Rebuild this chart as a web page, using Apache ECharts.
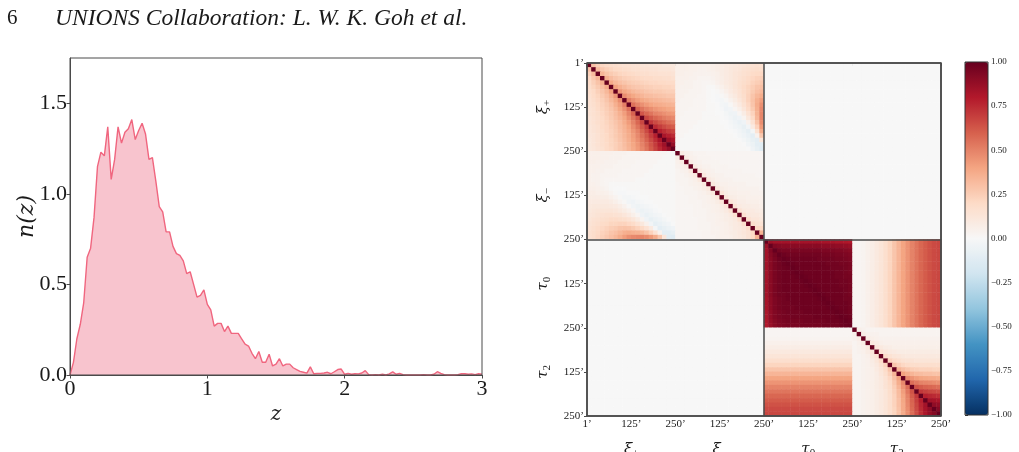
<!DOCTYPE html>
<html>
<head>
<meta charset="utf-8">
<script src="https://cdn.jsdelivr.net/npm/echarts@6/dist/echarts.min.js"></script>
<style>
html, body { margin: 0; padding: 0; background: #fff; }
#chart { width: 1019px; height: 452px; }
</style>
</head>
<body>
<div id="chart"></div>
<script>
// ---- left panel: redshift distribution n(z), bins of width zStep starting at z = 0
const zStep = 0.025
const nzValues = [
	0.00, 0.07, 0.20, 0.28, 0.40, 0.65, 0.70, 0.87, 1.15, 1.23,
	1.21, 1.37, 1.08, 1.19, 1.37, 1.28, 1.34, 1.36, 1.41, 1.30,
	1.35, 1.39, 1.33, 1.19, 1.20, 1.07, 0.93, 0.90, 0.79, 0.79,
	0.71, 0.67, 0.66, 0.63, 0.56, 0.57, 0.50, 0.43, 0.44, 0.47,
	0.39, 0.36, 0.27, 0.285, 0.285, 0.24, 0.27, 0.23, 0.23, 0.23,
	0.20, 0.17, 0.16, 0.12, 0.09, 0.13, 0.07, 0.07, 0.115, 0.05,
	0.06, 0.09, 0.05, 0.06, 0.06, 0.04, 0.03, 0.02, 0.015, 0.01,
	0.045, 0.007, 0.009, 0.009, 0.011, 0.015, 0.007, 0.018, 0.03, 0.033,
	0.004, 0.009, 0.004, 0.007, 0.006, 0.011, 0.024, 0.002, 0.0, 0.002,
	0.0, 0.004, 0.0, 0.006, 0.017, 0.004, 0.009, 0.002, 0.0, 0.0,
	0.0, 0.0, 0.0, 0.002, 0.0, 0.0, 0.004, 0.018, 0.009, 0.002,
	0.0, 0.0, 0.0, 0.002, 0.007, 0.007, 0.004, 0.006, 0.002, 0.007,
	0.005
]
const nzTicks = [0, 0.5, 1, 1.5]
const zTicks = [0, 1, 2, 3]

// ---- right panel: correlation matrix, 4 blocks of 20 angular bins
const groupNames = ['ξ+', 'ξ−', 'τ0', 'τ2']
const binTickLabels = ['1’', '125’', '250’', '125’', '250’', '125’', '250’', '125’', '250’']
const nBins = 20

// xi+ x xi+ (lower triangle, row i holds columns 0..i)
const xipXipLower = [
	[1],
	[0.30, 1],
	[0.24, 0.32, 1],
	[0.21, 0.27, 0.34, 1],
	[0.19, 0.24, 0.29, 0.36, 1],
	[0.18, 0.22, 0.26, 0.31, 0.38, 1],
	[0.17, 0.20, 0.24, 0.28, 0.33, 0.41, 1],
	[0.16, 0.19, 0.22, 0.26, 0.30, 0.36, 0.44, 1],
	[0.15, 0.18, 0.21, 0.24, 0.28, 0.33, 0.39, 0.47, 1],
	[0.15, 0.17, 0.20, 0.23, 0.26, 0.30, 0.36, 0.42, 0.51, 1],
	[0.14, 0.16, 0.19, 0.22, 0.25, 0.28, 0.33, 0.39, 0.46, 0.55, 1],
	[0.14, 0.16, 0.18, 0.21, 0.24, 0.27, 0.31, 0.36, 0.42, 0.50, 0.59, 1],
	[0.13, 0.15, 0.17, 0.20, 0.23, 0.26, 0.30, 0.34, 0.39, 0.46, 0.54, 0.63, 1],
	[0.13, 0.15, 0.17, 0.19, 0.22, 0.25, 0.28, 0.32, 0.37, 0.43, 0.50, 0.58, 0.67, 1],
	[0.12, 0.14, 0.16, 0.19, 0.21, 0.24, 0.27, 0.31, 0.35, 0.40, 0.47, 0.54, 0.62, 0.71, 1],
	[0.12, 0.14, 0.16, 0.18, 0.21, 0.23, 0.26, 0.30, 0.34, 0.38, 0.44, 0.50, 0.58, 0.66, 0.75, 1],
	[0.12, 0.13, 0.15, 0.18, 0.20, 0.23, 0.26, 0.29, 0.33, 0.37, 0.42, 0.48, 0.55, 0.62, 0.70, 0.78, 1],
	[0.11, 0.13, 0.15, 0.17, 0.20, 0.22, 0.25, 0.28, 0.32, 0.36, 0.41, 0.46, 0.52, 0.59, 0.66, 0.74, 0.82, 1],
	[0.11, 0.13, 0.15, 0.17, 0.19, 0.22, 0.24, 0.27, 0.31, 0.35, 0.39, 0.44, 0.50, 0.56, 0.63, 0.70, 0.78, 0.85, 1],
	[0.11, 0.12, 0.14, 0.16, 0.19, 0.21, 0.24, 0.27, 0.30, 0.34, 0.38, 0.43, 0.48, 0.54, 0.61, 0.68, 0.75, 0.82, 0.88, 1]
]

// xi- x xi- (lower triangle)
const ximXimLower = [
	[1],
	[0.08, 1],
	[0.05, 0.08, 1],
	[0.04, 0.05, 0.08, 1],
	[0.03, 0.04, 0.05, 0.09, 1],
	[0.03, 0.03, 0.04, 0.06, 0.09, 1],
	[0.03, 0.03, 0.03, 0.04, 0.06, 0.10, 1],
	[0.02, 0.03, 0.03, 0.04, 0.05, 0.06, 0.10, 1],
	[0.02, 0.02, 0.03, 0.03, 0.04, 0.05, 0.07, 0.11, 1],
	[0.02, 0.02, 0.03, 0.03, 0.03, 0.04, 0.05, 0.07, 0.11, 1],
	[0.02, 0.02, 0.02, 0.03, 0.03, 0.04, 0.04, 0.05, 0.07, 0.12, 1],
	[0.02, 0.02, 0.02, 0.03, 0.03, 0.03, 0.04, 0.05, 0.06, 0.08, 0.12, 1],
	[0.02, 0.02, 0.02, 0.02, 0.03, 0.03, 0.04, 0.04, 0.05, 0.06, 0.08, 0.13, 1],
	[0.02, 0.02, 0.02, 0.02, 0.03, 0.03, 0.03, 0.04, 0.05, 0.06, 0.07, 0.09, 0.14, 1],
	[0.02, 0.02, 0.02, 0.02, 0.03, 0.03, 0.03, 0.04, 0.04, 0.05, 0.06, 0.07, 0.09, 0.15, 1],
	[0.02, 0.02, 0.02, 0.02, 0.02, 0.03, 0.03, 0.04, 0.04, 0.05, 0.06, 0.07, 0.08, 0.10, 0.16, 1],
	[0.02, 0.02, 0.02, 0.02, 0.02, 0.03, 0.03, 0.03, 0.04, 0.05, 0.05, 0.06, 0.08, 0.09, 0.11, 0.17, 1],
	[0.02, 0.02, 0.02, 0.02, 0.02, 0.03, 0.03, 0.03, 0.04, 0.04, 0.05, 0.06, 0.07, 0.09, 0.10, 0.12, 0.18, 1],
	[0.02, 0.02, 0.02, 0.02, 0.02, 0.02, 0.03, 0.03, 0.04, 0.04, 0.05, 0.06, 0.07, 0.08, 0.10, 0.12, 0.14, 0.20, 1],
	[0.02, 0.02, 0.02, 0.02, 0.02, 0.02, 0.03, 0.03, 0.03, 0.04, 0.05, 0.05, 0.06, 0.08, 0.09, 0.11, 0.14, 0.20, 0.35, 1]
]

// xi+ (rows) x xi- (columns), the upper-right block; the lower-left one is its transpose
const xipXim = [
	[0.06, 0.06, 0.06, 0.05, 0.05, 0.05, 0.05, 0.05, 0.06, 0.07, 0.08, 0.09, 0.10, 0.11, 0.12, 0.13, 0.14, 0.15, 0.16, 0.16],
	[0.06, 0.06, 0.06, 0.05, 0.05, 0.04, 0.04, 0.05, 0.06, 0.07, 0.08, 0.09, 0.11, 0.12, 0.13, 0.15, 0.16, 0.17, 0.18, 0.18],
	[0.06, 0.06, 0.05, 0.05, 0.04, 0.04, 0.04, 0.04, 0.05, 0.06, 0.08, 0.09, 0.11, 0.13, 0.14, 0.16, 0.17, 0.19, 0.20, 0.21],
	[0.05, 0.05, 0.05, 0.04, 0.04, 0.03, 0.03, 0.03, 0.04, 0.06, 0.07, 0.09, 0.11, 0.13, 0.15, 0.17, 0.19, 0.21, 0.23, 0.24],
	[0.05, 0.05, 0.04, 0.04, 0.03, 0.03, 0.02, 0.02, 0.03, 0.05, 0.07, 0.09, 0.11, 0.13, 0.16, 0.18, 0.20, 0.23, 0.25, 0.27],
	[0.05, 0.04, 0.04, 0.04, 0.03, 0.03, 0.02, 0.01, 0.01, 0.03, 0.05, 0.08, 0.10, 0.13, 0.16, 0.19, 0.22, 0.25, 0.28, 0.30],
	[0.04, 0.04, 0.04, 0.03, 0.03, 0.03, 0.02, 0.01, 0.00, 0.01, 0.03, 0.06, 0.09, 0.12, 0.15, 0.19, 0.22, 0.26, 0.30, 0.33],
	[0.04, 0.04, 0.03, 0.03, 0.03, 0.02, 0.02, 0.01, 0.00, -0.01, 0.01, 0.03, 0.07, 0.10, 0.14, 0.18, 0.23, 0.28, 0.33, 0.37],
	[0.04, 0.03, 0.03, 0.03, 0.02, 0.02, 0.02, 0.01, 0.00, -0.01, -0.02, 0.01, 0.04, 0.08, 0.12, 0.17, 0.23, 0.29, 0.36, 0.42],
	[0.03, 0.03, 0.03, 0.03, 0.02, 0.02, 0.02, 0.01, 0.01, 0.00, -0.02, -0.03, 0.01, 0.05, 0.09, 0.15, 0.21, 0.28, 0.37, 0.46],
	[0.03, 0.03, 0.03, 0.02, 0.02, 0.02, 0.02, 0.01, 0.01, 0.00, -0.01, -0.04, -0.03, 0.02, 0.06, 0.12, 0.19, 0.26, 0.36, 0.48],
	[0.03, 0.03, 0.02, 0.02, 0.02, 0.02, 0.01, 0.01, 0.01, 0.00, 0.00, -0.02, -0.05, -0.04, 0.02, 0.08, 0.15, 0.23, 0.35, 0.49],
	[0.03, 0.02, 0.02, 0.02, 0.02, 0.02, 0.01, 0.01, 0.01, 0.01, 0.00, -0.01, -0.03, -0.06, -0.04, 0.03, 0.11, 0.20, 0.33, 0.49],
	[0.02, 0.02, 0.02, 0.02, 0.02, 0.01, 0.01, 0.01, 0.01, 0.01, 0.00, 0.00, -0.02, -0.04, -0.07, -0.04, 0.05, 0.15, 0.29, 0.47],
	[0.02, 0.02, 0.02, 0.02, 0.01, 0.01, 0.01, 0.01, 0.01, 0.01, 0.01, 0.00, -0.01, -0.03, -0.05, -0.08, -0.03, 0.09, 0.23, 0.43],
	[0.02, 0.02, 0.02, 0.01, 0.01, 0.01, 0.01, 0.01, 0.01, 0.01, 0.01, 0.01, 0.00, -0.01, -0.03, -0.06, -0.09, -0.02, 0.15, 0.37],
	[0.02, 0.02, 0.01, 0.01, 0.01, 0.01, 0.01, 0.01, 0.01, 0.01, 0.01, 0.01, 0.01, 0.00, -0.02, -0.04, -0.07, -0.10, 0.04, 0.27],
	[0.02, 0.01, 0.01, 0.01, 0.01, 0.01, 0.01, 0.01, 0.01, 0.01, 0.01, 0.01, 0.01, 0.01, 0.00, -0.02, -0.05, -0.08, -0.10, 0.12],
	[0.01, 0.01, 0.01, 0.01, 0.01, 0.01, 0.01, 0.01, 0.01, 0.01, 0.01, 0.01, 0.01, 0.01, 0.01, 0.00, -0.03, -0.06, -0.10, -0.11],
	[0.01, 0.01, 0.01, 0.01, 0.01, 0.01, 0.01, 0.01, 0.01, 0.01, 0.01, 0.01, 0.01, 0.01, 0.01, 0.01, 0.00, -0.04, -0.08, -0.12]
]

// tau0 x tau0 (lower triangle)
const tau0Tau0Lower = [
	[1],
	[0.86, 1],
	[0.84, 0.93, 1],
	[0.84, 0.92, 0.96, 1],
	[0.84, 0.91, 0.95, 0.98, 1],
	[0.84, 0.91, 0.95, 0.97, 0.99, 1],
	[0.84, 0.91, 0.95, 0.97, 0.98, 0.99, 1],
	[0.84, 0.91, 0.95, 0.97, 0.98, 0.98, 0.99, 1],
	[0.84, 0.91, 0.95, 0.97, 0.98, 0.98, 0.98, 0.99, 1],
	[0.84, 0.91, 0.95, 0.97, 0.98, 0.98, 0.98, 0.98, 0.99, 1],
	[0.84, 0.91, 0.95, 0.97, 0.98, 0.98, 0.98, 0.98, 0.98, 0.99, 1],
	[0.84, 0.91, 0.95, 0.97, 0.98, 0.98, 0.98, 0.98, 0.98, 0.98, 0.99, 1],
	[0.84, 0.91, 0.95, 0.97, 0.97, 0.98, 0.98, 0.98, 0.98, 0.98, 0.98, 0.99, 1],
	[0.83, 0.90, 0.94, 0.96, 0.97, 0.98, 0.98, 0.98, 0.98, 0.98, 0.98, 0.98, 0.99, 1],
	[0.83, 0.90, 0.94, 0.96, 0.97, 0.97, 0.98, 0.98, 0.98, 0.98, 0.98, 0.98, 0.98, 0.99, 1],
	[0.83, 0.90, 0.94, 0.96, 0.97, 0.97, 0.97, 0.98, 0.98, 0.98, 0.98, 0.98, 0.98, 0.98, 0.99, 1],
	[0.82, 0.89, 0.93, 0.95, 0.96, 0.97, 0.97, 0.97, 0.97, 0.98, 0.98, 0.98, 0.98, 0.98, 0.98, 0.99, 1],
	[0.82, 0.89, 0.93, 0.95, 0.96, 0.96, 0.97, 0.97, 0.97, 0.97, 0.97, 0.98, 0.98, 0.98, 0.98, 0.98, 0.99, 1],
	[0.81, 0.88, 0.92, 0.94, 0.95, 0.96, 0.96, 0.96, 0.96, 0.97, 0.97, 0.97, 0.97, 0.97, 0.98, 0.98, 0.98, 0.99, 1],
	[0.80, 0.87, 0.91, 0.93, 0.94, 0.95, 0.95, 0.95, 0.96, 0.96, 0.96, 0.96, 0.96, 0.97, 0.97, 0.97, 0.97, 0.98, 0.99, 1]
]

// tau2 x tau2 (lower triangle)
const tau2Tau2Lower = [
	[1],
	[0.06, 1],
	[0.04, 0.07, 1],
	[0.03, 0.05, 0.08, 1],
	[0.03, 0.04, 0.06, 0.10, 1],
	[0.03, 0.04, 0.05, 0.08, 0.12, 1],
	[0.03, 0.03, 0.04, 0.06, 0.10, 0.15, 1],
	[0.03, 0.03, 0.04, 0.05, 0.08, 0.12, 0.19, 1],
	[0.03, 0.03, 0.04, 0.05, 0.07, 0.10, 0.15, 0.23, 1],
	[0.03, 0.03, 0.04, 0.05, 0.06, 0.09, 0.13, 0.19, 0.28, 1],
	[0.03, 0.03, 0.04, 0.05, 0.06, 0.08, 0.12, 0.17, 0.24, 0.34, 1],
	[0.03, 0.03, 0.04, 0.05, 0.06, 0.08, 0.11, 0.15, 0.21, 0.30, 0.41, 1],
	[0.03, 0.03, 0.04, 0.05, 0.06, 0.08, 0.10, 0.14, 0.19, 0.27, 0.37, 0.48, 1],
	[0.03, 0.03, 0.04, 0.05, 0.06, 0.08, 0.10, 0.14, 0.18, 0.25, 0.34, 0.45, 0.56, 1],
	[0.03, 0.03, 0.04, 0.05, 0.06, 0.08, 0.10, 0.13, 0.18, 0.24, 0.32, 0.42, 0.53, 0.64, 1],
	[0.03, 0.03, 0.04, 0.05, 0.06, 0.08, 0.10, 0.13, 0.17, 0.23, 0.31, 0.40, 0.50, 0.61, 0.71, 1],
	[0.03, 0.03, 0.04, 0.05, 0.06, 0.08, 0.10, 0.13, 0.17, 0.23, 0.30, 0.39, 0.49, 0.59, 0.69, 0.78, 1],
	[0.03, 0.03, 0.04, 0.05, 0.06, 0.08, 0.10, 0.13, 0.17, 0.23, 0.30, 0.38, 0.48, 0.58, 0.67, 0.76, 0.84, 1],
	[0.03, 0.03, 0.04, 0.05, 0.06, 0.08, 0.10, 0.13, 0.17, 0.22, 0.29, 0.38, 0.47, 0.57, 0.66, 0.75, 0.83, 0.89, 1],
	[0.03, 0.03, 0.04, 0.05, 0.06, 0.08, 0.10, 0.13, 0.17, 0.22, 0.29, 0.37, 0.46, 0.56, 0.65, 0.74, 0.82, 0.88, 0.92, 1]
]

// tau0 x tau2: every tau0 row shows the same profile along the tau2 bins
const tau0Tau2Profile = [0.02, 0.02, 0.03, 0.05, 0.07, 0.10, 0.13, 0.17, 0.22, 0.28,
	0.34, 0.40, 0.45, 0.50, 0.54, 0.58, 0.61, 0.64, 0.66, 0.67]

// xi x tau blocks are uncorrelated
const xiTauCorr = 0

const rdBu = ['#053061', '#2166ac', '#4393c3', '#92c5de', '#d1e5f0', '#f7f7f7',
	'#fddbc7', '#f4a582', '#d6604d', '#b2182b', '#67001f']

// ---- build the 80 x 80 matrix from the blocks
const size = nBins * groupNames.length
const corr = []
for (let r = 0; r < size; r++) corr.push(new Array(size).fill(xiTauCorr))

function fromLower(lower) {
	const m = []
	for (let i = 0; i < nBins; i++) {
		m.push([])
		for (let j = 0; j < nBins; j++) m[i].push(j <= i ? lower[i][j] : lower[j][i])
	}
	return m
}
function transpose(block) {
	return block[0].map((_, j) => block.map((row) => row[j]))
}
function put(r0, c0, block) {
	for (let i = 0; i < nBins; i++) {
		for (let j = 0; j < nBins; j++) corr[r0 + i][c0 + j] = block[i][j]
	}
}
const tau0Tau2 = tau0Tau2Profile.map(() => tau0Tau2Profile.slice())

put(0, 0, fromLower(xipXipLower))
put(nBins, nBins, fromLower(ximXimLower))
put(0, nBins, xipXim)
put(nBins, 0, transpose(xipXim))
put(2 * nBins, 2 * nBins, fromLower(tau0Tau0Lower))
put(3 * nBins, 3 * nBins, fromLower(tau2Tau2Lower))
put(2 * nBins, 3 * nBins, tau0Tau2)
put(3 * nBins, 2 * nBins, transpose(tau0Tau2))

const heatData = []
const cellNames = []
for (let i = 0; i < size; i++) cellNames.push(String(i))
for (let r = 0; r < size; r++) {
	for (let c = 0; c < size; c++) heatData.push([c, r, corr[r][c]])
}

const SERIF = 'Liberation Serif'
const AXIS_COLOR = '#4a4a4a'
const TEXT_COLOR = '#1a1a1a'

function groupLabel(name) {
	return '{m|' + name.charAt(0) + '}{s|' + name.slice(1) + '}'
}
const groupRich = {
	m: { fontFamily: 'DejaVu Serif', fontStyle: 'italic', fontSize: 15, color: TEXT_COLOR },
	s: { fontFamily: SERIF, fontSize: 11, color: TEXT_COLOR, padding: [8, 0, 0, 0] }
}
const binTickStyle = { fontFamily: SERIF, fontSize: 11, color: TEXT_COLOR }

const chart = echarts.init(document.getElementById('chart'))
const option = {
	animation: false,
	title: [
		{
			text: '6', left: 7, top: 8, padding: 0,
			textStyle: { fontFamily: SERIF, fontSize: 21, fontWeight: 'normal', color: TEXT_COLOR }
		},
		{
			text: 'UNIONS Collaboration: L. W. K. Goh et al.', left: 55, top: 7, padding: 0,
			textStyle: { fontFamily: SERIF, fontSize: 23.5, fontStyle: 'italic', fontWeight: 'normal', color: TEXT_COLOR }
		}
	],
	grid: [
		{ left: 70, top: 58, width: 412, height: 317, outerBoundsMode: 'none', show: true, borderColor: AXIS_COLOR, borderWidth: 1, z: 10 },
		{ left: 587, top: 63, width: 354, height: 353, outerBoundsMode: 'none', show: true, borderColor: AXIS_COLOR, borderWidth: 1.5, z: 10 },
		{ left: 965, top: 62, width: 23, height: 353, outerBoundsMode: 'none', show: true, borderColor: '#333', borderWidth: 1, z: 10 }
	],
	xAxis: [
		{
			gridIndex: 0, type: 'value', min: 0, max: 3, interval: 1,
			name: 'z', nameLocation: 'middle', nameGap: 30, nameMoveOverlap: false,
			nameTextStyle: { fontFamily: 'DejaVu Serif', fontStyle: 'italic', fontSize: 20, color: TEXT_COLOR },
			axisLine: { show: true, lineStyle: { color: AXIS_COLOR, width: 1 } },
			axisTick: { show: true, length: 3.5, customValues: zTicks, lineStyle: { color: AXIS_COLOR } },
			axisLabel: { customValues: zTicks, margin: 3, fontFamily: SERIF, fontSize: 22, color: TEXT_COLOR },
			splitLine: { show: false }
		},
		{
			gridIndex: 1, type: 'category', data: cellNames, show: false
		},
		{
			gridIndex: 1, type: 'value', min: 0, max: size, interval: nBins / 2, position: 'bottom',
			axisLine: { show: false },
			axisTick: { show: true, length: 3, lineStyle: { color: AXIS_COLOR } },
			axisLabel: { margin: 3, formatter: (v) => binTickLabels[v / (nBins / 2)], ...binTickStyle },
			splitLine: { show: false }
		},
		{
			gridIndex: 1, type: 'value', min: 0, max: size, interval: 2 * nBins, position: 'bottom', z: 10,
			axisLine: { show: false }, axisTick: { show: false }, axisLabel: { show: false },
			splitLine: { show: true, lineStyle: { color: AXIS_COLOR, width: 1.5 } }
		},
		{
			gridIndex: 1, type: 'category', data: groupNames, position: 'bottom',
			axisLine: { show: false }, axisTick: { show: false },
			axisLabel: { margin: 24, formatter: groupLabel, rich: groupRich }
		},
		{ gridIndex: 2, type: 'value', min: 0, max: 1, show: false }
	],
	yAxis: [
		{
			gridIndex: 0, type: 'value', min: 0, max: 1.75,
			name: 'n(z)', nameLocation: 'middle', nameGap: 32, nameRotate: 90, nameMoveOverlap: false,
			nameTextStyle: { fontFamily: 'DejaVu Serif', fontStyle: 'italic', fontSize: 22, color: TEXT_COLOR },
			axisLine: { show: true, lineStyle: { color: AXIS_COLOR, width: 1 } },
			axisTick: { show: true, length: 3.5, customValues: nzTicks, lineStyle: { color: AXIS_COLOR } },
			axisLabel: { customValues: nzTicks, margin: 3, formatter: (v) => v.toFixed(1), fontFamily: SERIF, fontSize: 22, color: TEXT_COLOR },
			splitLine: { show: false }
		},
		{
			gridIndex: 1, type: 'category', data: cellNames, inverse: true, show: false
		},
		{
			gridIndex: 1, type: 'value', min: 0, max: size, interval: nBins / 2, inverse: true, position: 'left',
			axisLine: { show: false },
			axisTick: { show: true, length: 3, lineStyle: { color: AXIS_COLOR } },
			axisLabel: { margin: 3, formatter: (v) => binTickLabels[v / (nBins / 2)], ...binTickStyle },
			splitLine: { show: false }
		},
		{
			gridIndex: 1, type: 'value', min: 0, max: size, interval: 2 * nBins, inverse: true, position: 'left', z: 10,
			axisLine: { show: false }, axisTick: { show: false }, axisLabel: { show: false },
			splitLine: { show: true, lineStyle: { color: AXIS_COLOR, width: 1.5 } }
		},
		{
			gridIndex: 1, type: 'category', data: groupNames, inverse: true, position: 'left',
			axisLine: { show: false }, axisTick: { show: false },
			axisLabel: { margin: 34, rotate: 90, formatter: groupLabel, rich: groupRich }
		},
		{
			gridIndex: 2, type: 'value', min: -1, max: 1, interval: 0.25, position: 'right',
			axisLine: { show: false },
			axisTick: { show: true, length: 3, lineStyle: { color: '#333' } },
			axisLabel: {
				margin: 3, fontFamily: SERIF, fontSize: 9, color: TEXT_COLOR,
				formatter: (v) => (v < 0 ? '−' : '') + Math.abs(v).toFixed(2)
			},
			splitLine: { show: false }
		}
	],
	visualMap: {
		type: 'continuous', min: -1, max: 1, seriesIndex: 1, calculable: false,
		left: 965, top: 62, itemWidth: 23, itemHeight: 353, padding: 0,
		text: null, hoverLink: false,
		inRange: { color: rdBu }
	},
	series: [
		{
			type: 'line', xAxisIndex: 0, yAxisIndex: 0,
			data: nzValues.map((n, i) => [i * zStep, n]),
			showSymbol: false, symbol: 'none', smooth: false,
			lineStyle: { color: '#f0667f', width: 1.4 },
			areaStyle: { color: '#f8c4ce', opacity: 1 },
			silent: true
		},
		{
			type: 'heatmap', xAxisIndex: 1, yAxisIndex: 1,
			data: heatData, progressive: 0, silent: true,
			emphasis: { disabled: true }
		}
	]
}
chart.setOption(option)
</script>
</body>
</html>
